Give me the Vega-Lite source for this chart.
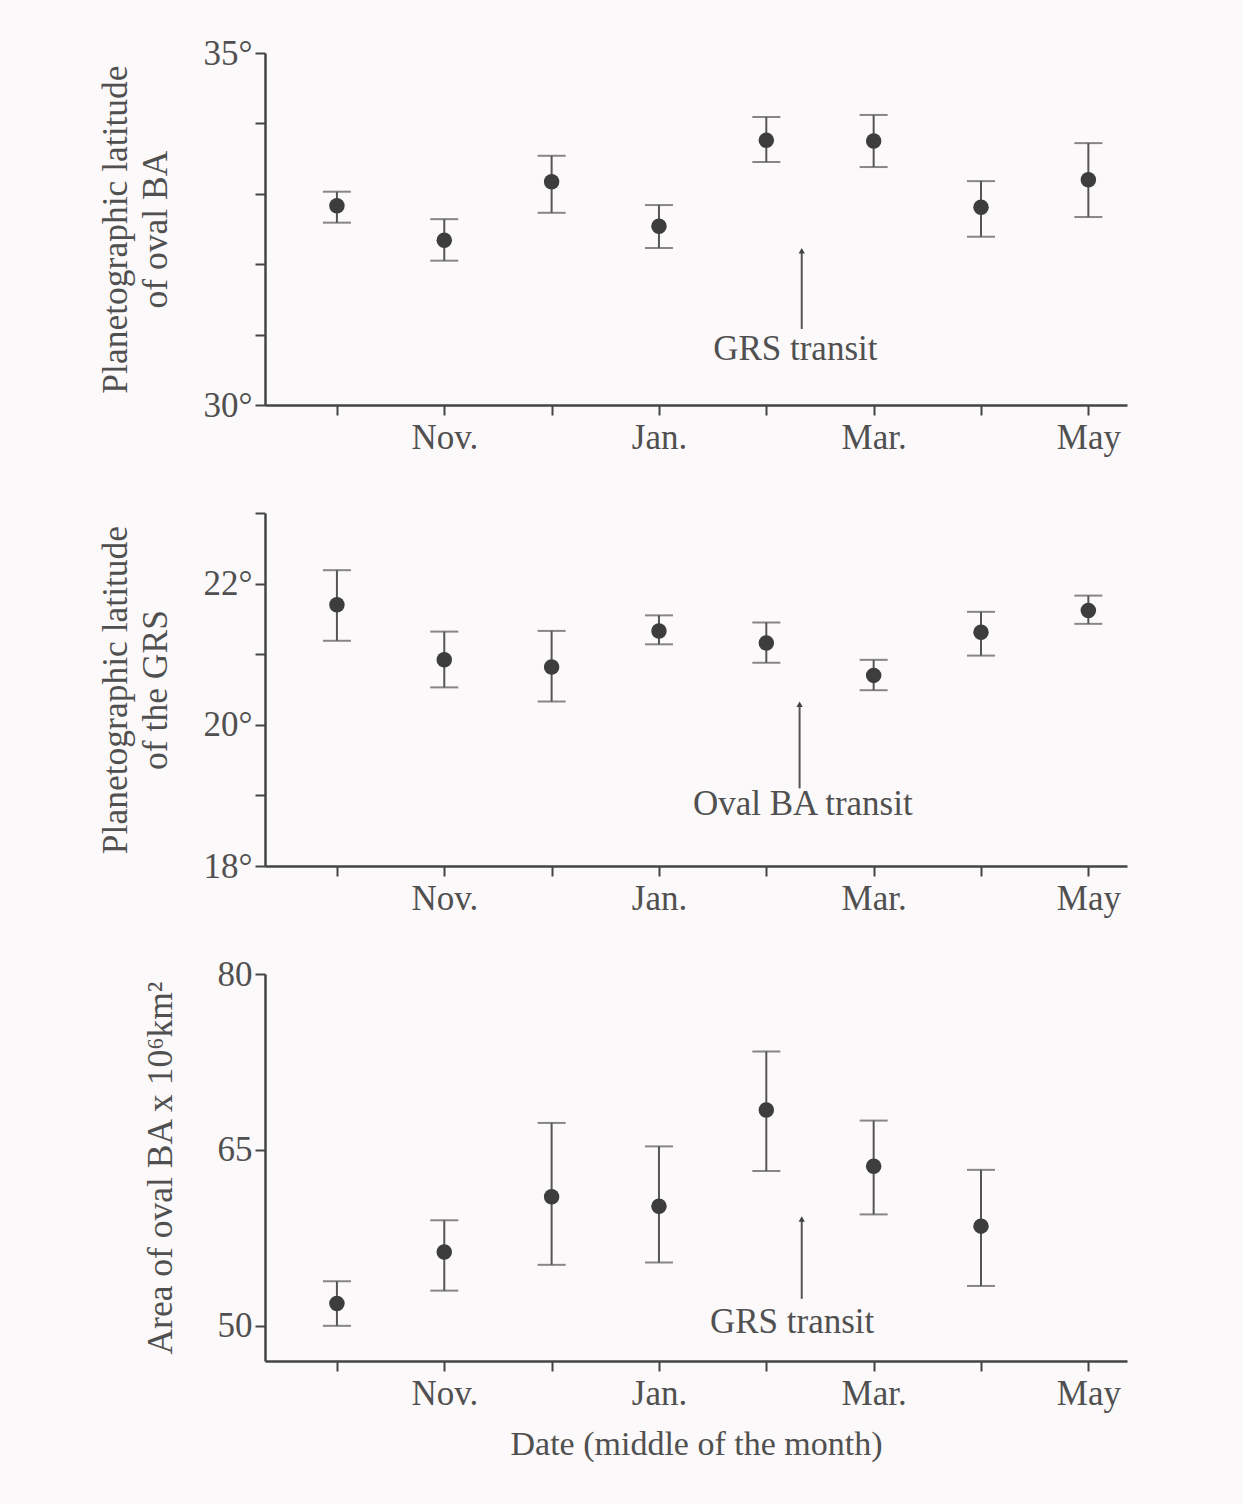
{
  "$schema": "https://vega.github.io/schema/vega-lite/v6.json",
  "background": "#fcf9fa",
  "autosize": {"type": "pad"},
  "padding": {"left": 98, "top": 36, "right": 116, "bottom": 45},
  "spacing": 108,
  "bounds": "flush",
  "config": {
    "view": {"stroke": null},
    "font": "Liberation Serif",
    "axis": {
      "grid": false,
      "labelFont": "Liberation Serif",
      "labelFontSize": 35,
      "labelColor": "#505050",
      "titleFont": "Liberation Serif",
      "titleFontSize": 35.5,
      "titleFontWeight": "normal",
      "titleColor": "#505050",
      "domainColor": "#444444",
      "domainWidth": 2.5,
      "tickColor": "#444444",
      "tickWidth": 2,
      "tickSize": 10
    }
  },
  "datasets": {
    "ba_lat": [
      {"month": 0, "lat": 32.83, "lo": 32.59, "hi": 33.03},
      {"month": 1, "lat": 32.34, "lo": 32.05, "hi": 32.64},
      {"month": 2, "lat": 33.17, "lo": 32.73, "hi": 33.54},
      {"month": 3, "lat": 32.54, "lo": 32.23, "hi": 32.84},
      {"month": 4, "lat": 33.76, "lo": 33.45, "hi": 34.09},
      {"month": 5, "lat": 33.75, "lo": 33.38, "hi": 34.12},
      {"month": 6, "lat": 32.81, "lo": 32.39, "hi": 33.18},
      {"month": 7, "lat": 33.20, "lo": 32.67, "hi": 33.72}
    ],
    "grs_lat": [
      {"month": 0, "lat": 21.70, "lo": 21.19, "hi": 22.19},
      {"month": 1, "lat": 20.92, "lo": 20.53, "hi": 21.32},
      {"month": 2, "lat": 20.82, "lo": 20.33, "hi": 21.33},
      {"month": 3, "lat": 21.33, "lo": 21.14, "hi": 21.55},
      {"month": 4, "lat": 21.16, "lo": 20.88, "hi": 21.45},
      {"month": 5, "lat": 20.70, "lo": 20.49, "hi": 20.92},
      {"month": 6, "lat": 21.31, "lo": 20.98, "hi": 21.60},
      {"month": 7, "lat": 21.62, "lo": 21.43, "hi": 21.83}
    ],
    "ba_area": [
      {"month": 0, "area": 51.9, "lo": 50.0, "hi": 53.8},
      {"month": 1, "area": 56.3, "lo": 53.0, "hi": 59.0},
      {"month": 2, "area": 61.0, "lo": 55.2, "hi": 67.3},
      {"month": 3, "area": 60.2, "lo": 55.4, "hi": 65.3},
      {"month": 4, "area": 68.4, "lo": 63.2, "hi": 73.4},
      {"month": 5, "area": 63.6, "lo": 59.5, "hi": 67.5},
      {"month": 6, "area": 58.5, "lo": 53.4, "hi": 63.3}
    ],
    "ann": [
      {"panel": 1, "month": 4.33, "arrowTop": 32.19, "arrowBottom": 31.08, "textMonth": 4.27, "textY": 30.80, "label": "GRS transit"},
      {"panel": 2, "month": 4.31, "arrowTop": 20.29, "arrowBottom": 19.10, "textMonth": 4.34, "textY": 18.88, "label": "Oval BA transit"},
      {"panel": 3, "month": 4.33, "arrowTop": 59.1, "arrowBottom": 52.3, "textMonth": 4.24, "textY": 50.3, "label": "GRS transit"}
    ]
  },
  "vconcat": [
    {
      "width": 862,
      "height": 352,
      "encoding": {
        "x": {
          "field": "month",
          "type": "quantitative",
          "scale": {"domain": [-0.67, 7.36], "nice": false, "zero": false},
          "axis": {
            "title": null,
            "values": [0, 1, 2, 3, 4, 5, 6, 7],
            "labelExpr": "datum.value==1?'Nov.':datum.value==3?'Jan.':datum.value==5?'Mar.':datum.value==7?'May':''",
            "labelPadding": 5
          }
        }
      },
      "layer": [
        {
          "data": {"name": "ba_lat"},
          "mark": {"type": "rule", "color": "#555555", "strokeWidth": 2},
          "encoding": {
            "y": {
              "field": "lo",
              "type": "quantitative",
              "scale": {"domain": [30, 35], "nice": false, "zero": false},
              "axis": {
                "title": ["Planetographic latitude", "of oval BA"],
                "titleLineHeight": 40,
                "titlePadding": 30,
                "values": [30, 31, 32, 33, 34, 35],
                "labelExpr": "datum.value % 5 == 0 ? datum.value + '°' : ''",
                "labelPadding": 3
              }
            },
            "y2": {"field": "hi"}
          }
        },
        {
          "data": {"name": "ba_lat"},
          "mark": {"type": "tick", "orient": "horizontal", "size": 28, "thickness": 2, "color": "#555555"},
          "encoding": {"y": {"field": "lo", "type": "quantitative"}}
        },
        {
          "data": {"name": "ba_lat"},
          "mark": {"type": "tick", "orient": "horizontal", "size": 28, "thickness": 2, "color": "#555555"},
          "encoding": {"y": {"field": "hi", "type": "quantitative"}}
        },
        {
          "data": {"name": "ba_lat"},
          "mark": {"type": "point", "shape": "circle", "filled": true, "size": 240, "color": "#3d3d3d", "opacity": 1},
          "encoding": {"y": {"field": "lat", "type": "quantitative"}}
        },
        {
          "data": {"name": "ann"},
          "transform": [{"filter": "datum.panel == 1"}],
          "mark": {"type": "rule", "color": "#555555", "strokeWidth": 2},
          "encoding": {"y": {"field": "arrowBottom", "type": "quantitative"}, "y2": {"field": "arrowTop"}}
        },
        {
          "data": {"name": "ann"},
          "transform": [{"filter": "datum.panel == 1"}],
          "mark": {"type": "point", "shape": "triangle-up", "filled": true, "size": 40, "color": "#444444", "opacity": 1},
          "encoding": {"y": {"field": "arrowTop", "type": "quantitative"}}
        },
        {
          "data": {"name": "ann"},
          "transform": [{"filter": "datum.panel == 1"}],
          "mark": {"type": "text", "font": "Liberation Serif", "fontSize": 35, "color": "#505050", "align": "center", "baseline": "middle"},
          "encoding": {
            "x": {"field": "textMonth", "type": "quantitative"},
            "y": {"field": "textY", "type": "quantitative"},
            "text": {"field": "label"}
          }
        }
      ]
    },
    {
      "width": 862,
      "height": 353,
      "encoding": {
        "x": {
          "field": "month",
          "type": "quantitative",
          "scale": {"domain": [-0.67, 7.36], "nice": false, "zero": false},
          "axis": {
            "title": null,
            "values": [0, 1, 2, 3, 4, 5, 6, 7],
            "labelExpr": "datum.value==1?'Nov.':datum.value==3?'Jan.':datum.value==5?'Mar.':datum.value==7?'May':''",
            "labelPadding": 5
          }
        }
      },
      "layer": [
        {
          "data": {"name": "grs_lat"},
          "mark": {"type": "rule", "color": "#555555", "strokeWidth": 2},
          "encoding": {
            "y": {
              "field": "lo",
              "type": "quantitative",
              "scale": {"domain": [18, 23], "nice": false, "zero": false},
              "axis": {
                "title": ["Planetographic latitude", "of the GRS"],
                "titleLineHeight": 40,
                "titlePadding": 30,
                "values": [18, 19, 20, 21, 22, 23],
                "labelExpr": "(datum.value % 2 == 0 && datum.value < 23) ? datum.value + '°' : ''",
                "labelPadding": 3
              }
            },
            "y2": {"field": "hi"}
          }
        },
        {
          "data": {"name": "grs_lat"},
          "mark": {"type": "tick", "orient": "horizontal", "size": 28, "thickness": 2, "color": "#555555"},
          "encoding": {"y": {"field": "lo", "type": "quantitative"}}
        },
        {
          "data": {"name": "grs_lat"},
          "mark": {"type": "tick", "orient": "horizontal", "size": 28, "thickness": 2, "color": "#555555"},
          "encoding": {"y": {"field": "hi", "type": "quantitative"}}
        },
        {
          "data": {"name": "grs_lat"},
          "mark": {"type": "point", "shape": "circle", "filled": true, "size": 240, "color": "#3d3d3d", "opacity": 1},
          "encoding": {"y": {"field": "lat", "type": "quantitative"}}
        },
        {
          "data": {"name": "ann"},
          "transform": [{"filter": "datum.panel == 2"}],
          "mark": {"type": "rule", "color": "#555555", "strokeWidth": 2},
          "encoding": {"y": {"field": "arrowBottom", "type": "quantitative"}, "y2": {"field": "arrowTop"}}
        },
        {
          "data": {"name": "ann"},
          "transform": [{"filter": "datum.panel == 2"}],
          "mark": {"type": "point", "shape": "triangle-up", "filled": true, "size": 40, "color": "#444444", "opacity": 1},
          "encoding": {"y": {"field": "arrowTop", "type": "quantitative"}}
        },
        {
          "data": {"name": "ann"},
          "transform": [{"filter": "datum.panel == 2"}],
          "mark": {"type": "text", "font": "Liberation Serif", "fontSize": 35, "color": "#505050", "align": "center", "baseline": "middle"},
          "encoding": {
            "x": {"field": "textMonth", "type": "quantitative"},
            "y": {"field": "textY", "type": "quantitative"},
            "text": {"field": "label"}
          }
        }
      ]
    },
    {
      "width": 862,
      "height": 387,
      "encoding": {
        "x": {
          "field": "month",
          "type": "quantitative",
          "scale": {"domain": [-0.67, 7.36], "nice": false, "zero": false},
          "axis": {
            "title": "Date (middle of the month)",
            "titleFontSize": 34,
            "titlePadding": 16,
            "values": [0, 1, 2, 3, 4, 5, 6, 7],
            "labelExpr": "datum.value==1?'Nov.':datum.value==3?'Jan.':datum.value==5?'Mar.':datum.value==7?'May':''",
            "labelPadding": 5
          }
        }
      },
      "layer": [
        {
          "data": {"name": "ba_area"},
          "mark": {"type": "rule", "color": "#555555", "strokeWidth": 2},
          "encoding": {
            "y": {
              "field": "lo",
              "type": "quantitative",
              "scale": {"domain": [47, 80], "nice": false, "zero": false},
              "axis": {
                "title": "Area of oval BA x 10⁶km²",
                "titlePadding": 39,
                "values": [50, 65, 80],
                "labelPadding": 3
              }
            },
            "y2": {"field": "hi"}
          }
        },
        {
          "data": {"name": "ba_area"},
          "mark": {"type": "tick", "orient": "horizontal", "size": 28, "thickness": 2, "color": "#555555"},
          "encoding": {"y": {"field": "lo", "type": "quantitative"}}
        },
        {
          "data": {"name": "ba_area"},
          "mark": {"type": "tick", "orient": "horizontal", "size": 28, "thickness": 2, "color": "#555555"},
          "encoding": {"y": {"field": "hi", "type": "quantitative"}}
        },
        {
          "data": {"name": "ba_area"},
          "mark": {"type": "point", "shape": "circle", "filled": true, "size": 240, "color": "#3d3d3d", "opacity": 1},
          "encoding": {"y": {"field": "area", "type": "quantitative"}}
        },
        {
          "data": {"name": "ann"},
          "transform": [{"filter": "datum.panel == 3"}],
          "mark": {"type": "rule", "color": "#555555", "strokeWidth": 2},
          "encoding": {"y": {"field": "arrowBottom", "type": "quantitative"}, "y2": {"field": "arrowTop"}}
        },
        {
          "data": {"name": "ann"},
          "transform": [{"filter": "datum.panel == 3"}],
          "mark": {"type": "point", "shape": "triangle-up", "filled": true, "size": 40, "color": "#444444", "opacity": 1},
          "encoding": {"y": {"field": "arrowTop", "type": "quantitative"}}
        },
        {
          "data": {"name": "ann"},
          "transform": [{"filter": "datum.panel == 3"}],
          "mark": {"type": "text", "font": "Liberation Serif", "fontSize": 35, "color": "#505050", "align": "center", "baseline": "middle"},
          "encoding": {
            "x": {"field": "textMonth", "type": "quantitative"},
            "y": {"field": "textY", "type": "quantitative"},
            "text": {"field": "label"}
          }
        }
      ]
    }
  ]
}
